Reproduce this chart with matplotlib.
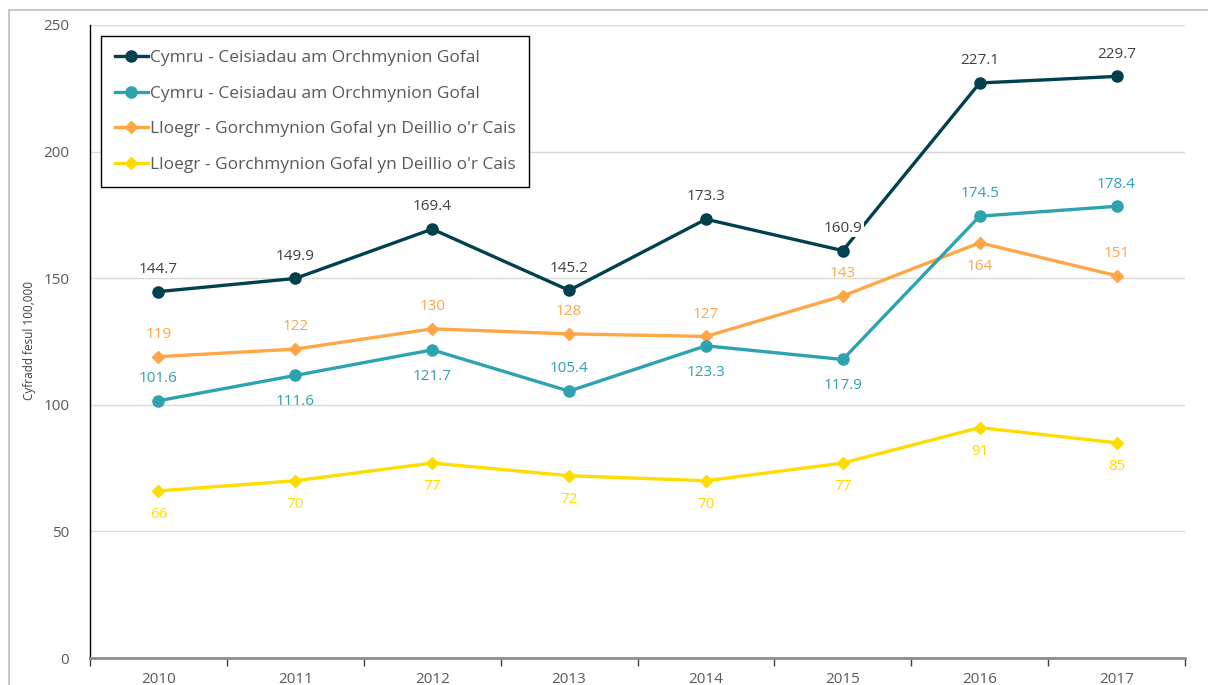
import matplotlib.pyplot as plt
from matplotlib.patches import Rectangle

plt.rcParams['font.family'] = ['Open Sans', 'DejaVu Sans']

# --- Adatok ---
years = ["2010", "2011", "2012", "2013", "2014", "2015", "2016", "2017"]
cymru_dark = [144.7, 149.9, 169.4, 145.2, 173.3, 160.9, 227.1, 229.7]
cymru_teal = [101.6, 111.6, 121.7, 105.4, 123.3, 117.9, 174.5, 178.4]
lloegr_orange = [119, 122, 130, 128, 127, 143, 164, 151]
lloegr_yellow = [66, 70, 77, 72, 70, 77, 91, 85]

label_cymru = "Cymru - Ceisiadau am Orchmynion Gofal"
label_lloegr = "Lloegr - Gorchmynion Gofal yn Deillio o'r Cais"

# label placement: 1 = above, -1 = below
teal_pos = [1, -1, -1, 1, -1, -1, 1, 1]
orange_pos = [1, 1, 1, 1, 1, 1, -1, 1]

DARK = "#00404f"
TEAL = "#2ea3b0"
ORANGE = "#ffa647"
YELLOW = "#ffdc00"
GREY = "#595959"

fig = plt.figure(figsize=(12.08, 6.85), dpi=100)
ax = fig.add_axes([90 / 1208, 27 / 685, 1095 / 1208, 633 / 685])

# outer chart border
fig.patches.append(Rectangle((9 / 1208, -0.05), 1.2, 0.05 + 675 / 685,
                             transform=fig.transFigure, fill=False,
                             edgecolor="#bfbfbf", linewidth=1.2))

x = list(range(len(years)))
ax.plot(x, cymru_dark, color=DARK, lw=2.4, marker="o", ms=8, label=label_cymru, zorder=5)
ax.plot(x, cymru_teal, color=TEAL, lw=2.4, marker="o", ms=8, label=label_cymru, zorder=4)
ax.plot(x, lloegr_orange, color=ORANGE, lw=2.4, marker="D", ms=6, label=label_lloegr, zorder=3)
ax.plot(x, lloegr_yellow, color=YELLOW, lw=2.4, marker="D", ms=6, label=label_lloegr, zorder=3)

fs = 11
for i, v in enumerate(cymru_dark):
    ax.annotate(f"{v:.1f}", (i, v), xytext=(0, 16), textcoords="offset points",
                ha="center", va="center", fontsize=fs, color="#404040", zorder=6,
                bbox=dict(boxstyle="square,pad=0.1", fc="white", ec="none"))
for i, v in enumerate(cymru_teal):
    off = 16 if teal_pos[i] > 0 else -19
    ax.annotate(f"{v:.1f}", (i, v), xytext=(0, off), textcoords="offset points",
                ha="center", va="center", fontsize=fs, color=TEAL, zorder=6)
for i, v in enumerate(lloegr_orange):
    off = 16 if orange_pos[i] > 0 else -17
    ax.annotate(f"{v:.0f}", (i, v), xytext=(0, off), textcoords="offset points",
                ha="center", va="center", fontsize=fs, color=ORANGE, zorder=6)
for i, v in enumerate(lloegr_yellow):
    ax.annotate(f"{v:.0f}", (i, v), xytext=(0, -17), textcoords="offset points",
                ha="center", va="center", fontsize=fs, color=YELLOW, zorder=6)

ax.set_xlim(-0.5, len(years) - 0.5)
ax.set_ylim(0, 250)
ax.set_yticks([0, 50, 100, 150, 200, 250])
ax.set_xticks(x)
ax.set_xticklabels(years)
ax.set_xticks([i - 0.5 for i in range(len(years) + 1)], minor=True)
ax.tick_params(axis="x", which="major", length=0, pad=10, labelsize=11, labelcolor=GREY)
ax.tick_params(axis="x", which="minor", length=6, width=1, color="#404040", direction="out")
ax.tick_params(axis="y", length=0, pad=15, labelsize=11, labelcolor=GREY)
ax.grid(axis="y", color="#d9d9d9", lw=1)
ax.set_axisbelow(True)

for s in ["top", "right"]:
    ax.spines[s].set_visible(False)
ax.spines["left"].set_color("black")
ax.spines["left"].set_linewidth(1)
ax.spines["bottom"].set_color("#8c8c8c")
ax.spines["bottom"].set_linewidth(2)

fig.text(30 / 1208, 1 - 340 / 685, "Cyfradd fesul 100,000", rotation=90,
         ha="center", va="center", fontsize=8.5, color="#404040")

leg = ax.legend(loc="upper left", bbox_to_anchor=(11 / 1095, 1 - 11 / 633),
                fontsize=12.5, labelspacing=1.12, handlelength=1.9, handletextpad=0.1,
                borderpad=0.8, borderaxespad=0, fancybox=False, framealpha=1,
                edgecolor="black")
leg.get_frame().set_linewidth(1)
for t in leg.get_texts():
    t.set_color(GREY)

plt.savefig("out.png", dpi=100)
plt.close()
